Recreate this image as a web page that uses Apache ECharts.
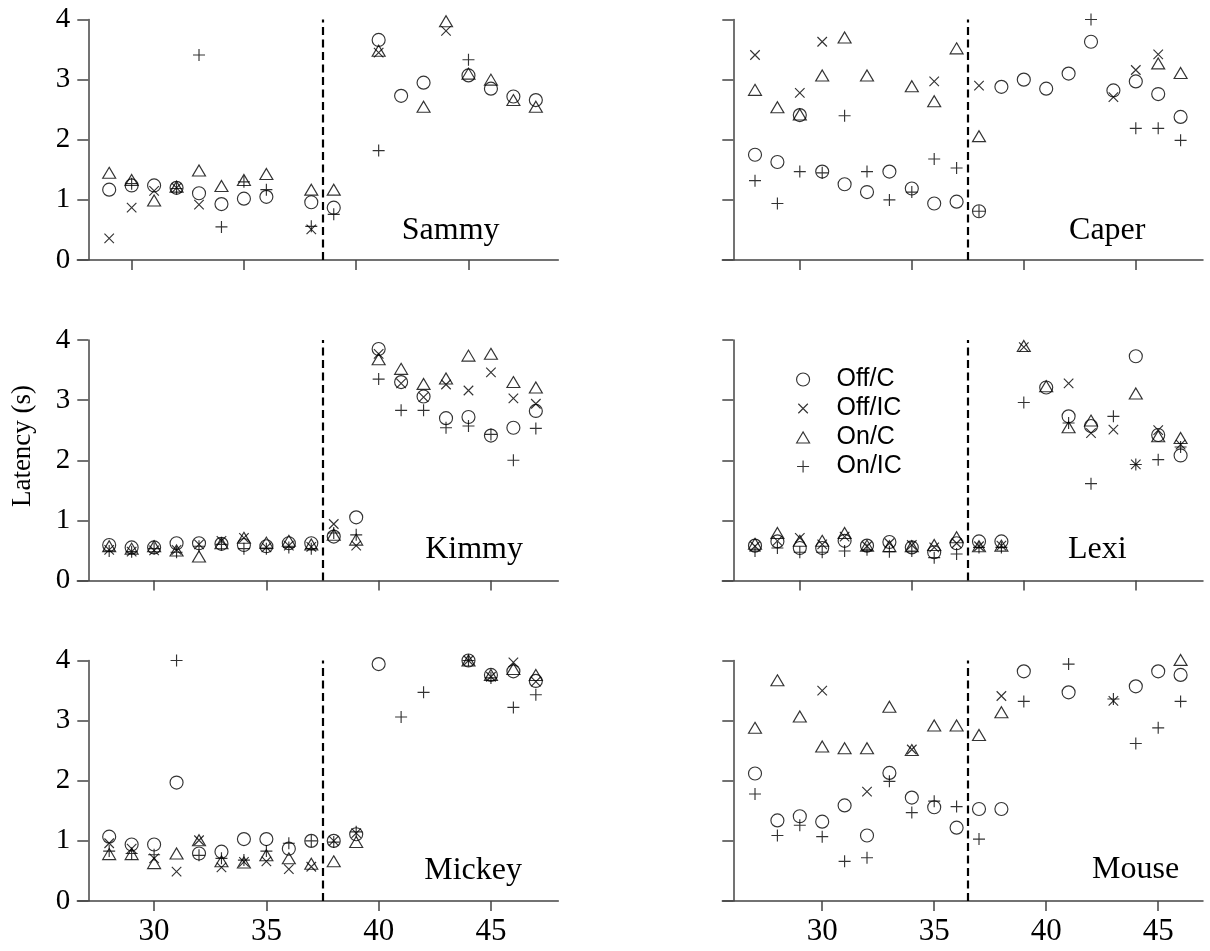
<!DOCTYPE html>
<html><head><meta charset="utf-8">
<script src="https://cdn.jsdelivr.net/npm/echarts@6/dist/echarts.min.js"></script>
<style>html,body{margin:0;padding:0;background:#fff}#c{width:1210px;height:951px}</style>
</head><body><div id="c"></div>
<script>
// ---- data: [session, latency (s)] ----
const seriesNames = ['Off/C', 'Off/IC', 'On/C', 'On/IC'];
const yTicks = [0, 1, 2, 3, 4];

const sammyOffC  = [[28,1.17],[29,1.24],[30,1.24],[31,1.2],[32,1.11],[33,0.93],[34,1.02],[35,1.05],[37,0.96],[38,0.87],[40,3.66],[41,2.73],[42,2.95],[44,3.07],[45,2.85],[46,2.72],[47,2.66]];
const sammyOffIC = [[28,0.36],[29,0.87],[30,1.15],[31,1.2],[32,0.92],[37,0.51],[40,3.45],[43,3.81]];
const sammyOnC   = [[28,1.45],[29,1.33],[30,0.99],[31,1.22],[32,1.49],[33,1.23],[34,1.33],[35,1.43],[37,1.17],[38,1.17],[40,3.48],[42,2.55],[43,3.97],[44,3.1],[45,3.0],[46,2.66],[47,2.55]];
const sammyOnIC  = [[29,1.27],[31,1.19],[32,3.41],[33,0.55],[34,1.3],[35,1.17],[37,0.56],[38,0.76],[40,1.82],[44,3.33]];

const caperOffC  = [[27,1.75],[28,1.63],[29,2.41],[30,1.47],[31,1.26],[32,1.13],[33,1.47],[34,1.19],[35,0.94],[36,0.97],[37,0.81],[38,2.88],[39,3.0],[40,2.85],[41,3.1],[42,3.63],[43,2.82],[44,2.97],[45,2.76],[46,2.38]];
const caperOffIC = [[27,3.41],[29,2.78],[30,3.63],[35,2.97],[37,2.9],[43,2.71],[44,3.16],[45,3.42]];
const caperOnC   = [[27,2.83],[28,2.54],[29,2.42],[30,3.07],[31,3.7],[32,3.07],[34,2.89],[35,2.64],[36,3.52],[37,2.06],[45,3.27],[46,3.11]];
const caperOnIC  = [[27,1.32],[28,0.94],[29,1.47],[30,1.45],[31,2.4],[32,1.47],[33,1.0],[34,1.13],[35,1.68],[36,1.53],[37,0.81],[42,4.0],[44,2.19],[45,2.19],[46,1.99]];

const kimmyOffC  = [[28,0.59],[29,0.55],[30,0.55],[31,0.62],[32,0.62],[33,0.61],[34,0.59],[35,0.57],[36,0.62],[37,0.62],[38,0.73],[39,1.05],[40,3.85],[41,3.3],[42,3.06],[43,2.7],[44,2.72],[45,2.41],[46,2.54],[47,2.82]];
const kimmyOffIC = [[28,0.51],[29,0.48],[30,0.5],[31,0.51],[32,0.6],[33,0.66],[34,0.71],[35,0.55],[36,0.58],[37,0.56],[38,0.94],[39,0.58],[40,3.77],[41,3.28],[42,3.05],[43,3.26],[44,3.16],[45,3.46],[46,3.03],[47,2.94]];
const kimmyOnC   = [[28,0.57],[29,0.53],[30,0.57],[31,0.5],[32,0.4],[33,0.62],[34,0.71],[35,0.63],[36,0.66],[37,0.6],[38,0.76],[39,0.68],[40,3.68],[41,3.52],[42,3.27],[43,3.36],[44,3.74],[45,3.77],[46,3.3],[47,3.21]];
const kimmyOnIC  = [[28,0.49],[29,0.48],[30,0.53],[31,0.47],[32,0.57],[33,0.6],[34,0.53],[35,0.53],[36,0.55],[37,0.53],[38,0.79],[39,0.76],[40,3.35],[41,2.83],[42,2.83],[43,2.54],[44,2.57],[45,2.43],[46,2.0],[47,2.53]];

const lexiOffC  = [[27,0.58],[28,0.65],[29,0.54],[30,0.54],[31,0.66],[32,0.58],[33,0.64],[34,0.55],[35,0.47],[36,0.62],[37,0.65],[38,0.65],[40,3.21],[41,2.73],[42,2.57],[44,3.73],[45,2.42],[46,2.08]];
const lexiOffIC = [[27,0.57],[28,0.66],[29,0.71],[30,0.6],[31,0.73],[32,0.57],[33,0.62],[34,0.59],[35,0.55],[36,0.62],[37,0.57],[38,0.58],[39,3.88],[41,3.28],[42,2.45],[43,2.51],[44,1.93],[45,2.5],[46,2.26]];
const lexiOnC   = [[27,0.61],[28,0.79],[29,0.66],[30,0.66],[31,0.79],[32,0.58],[33,0.57],[34,0.57],[35,0.59],[36,0.72],[37,0.57],[38,0.58],[39,3.9],[40,3.23],[41,2.55],[42,2.66],[44,3.11],[45,2.4],[46,2.37]];
const lexiOnIC  = [[27,0.49],[28,0.54],[29,0.47],[30,0.47],[31,0.49],[32,0.51],[33,0.48],[34,0.49],[35,0.38],[36,0.44],[37,0.55],[38,0.55],[39,2.96],[41,2.62],[42,1.61],[43,2.73],[44,1.93],[45,2.01],[46,2.22]];

const mickeyOffC  = [[28,1.07],[29,0.94],[30,0.94],[31,1.97],[32,0.79],[33,0.82],[34,1.03],[35,1.03],[36,0.87],[37,1.0],[38,1.0],[39,1.11],[40,3.94],[44,4.0],[45,3.76],[46,3.82],[47,3.66]];
const mickeyOffIC = [[28,0.96],[29,0.87],[30,0.71],[31,0.49],[32,1.01],[33,0.56],[34,0.65],[35,0.66],[36,0.53],[37,0.57],[38,1.0],[39,1.13],[44,4.0],[45,3.73],[46,3.97],[47,3.65]];
const mickeyOnC   = [[28,0.78],[29,0.78],[30,0.63],[31,0.79],[32,1.01],[33,0.66],[34,0.64],[35,0.76],[36,0.71],[37,0.62],[38,0.66],[39,0.98],[44,4.0],[45,3.76],[46,3.86],[47,3.76]];
const mickeyOnIC  = [[28,0.83],[29,0.79],[30,0.77],[31,4.0],[32,0.76],[33,0.71],[34,0.68],[35,0.83],[36,0.96],[37,1.0],[38,0.98],[39,1.15],[41,3.06],[42,3.47],[44,4.0],[45,3.71],[46,3.22],[47,3.43]];

const mouseOffC  = [[27,2.12],[28,1.34],[29,1.41],[30,1.32],[31,1.59],[32,1.09],[33,2.13],[34,1.72],[35,1.56],[36,1.22],[37,1.53],[38,1.53],[39,3.82],[41,3.47],[44,3.57],[45,3.82],[46,3.76]];
const mouseOffIC = [[30,3.5],[32,1.82],[34,2.52],[38,3.41],[43,3.33]];
const mouseOnC   = [[27,2.88],[28,3.67],[29,3.07],[30,2.57],[31,2.54],[32,2.54],[33,3.23],[34,2.51],[35,2.92],[36,2.92],[37,2.76],[38,3.14],[46,4.01]];
const mouseOnIC  = [[27,1.78],[28,1.09],[29,1.26],[30,1.07],[31,0.66],[32,0.72],[33,1.99],[34,1.47],[35,1.66],[36,1.57],[37,1.03],[39,3.32],[41,3.94],[43,3.36],[44,2.62],[45,2.88],[46,3.32]];

// phase-change (dashed line) session per column, tick sessions per panel
const leftPhase = 37.5, rightPhase = 36.5;
const ticksA = [29, 34, 39, 44];
const ticksB = [30, 35, 40, 45];

// ---- layout ----
const panels = [
  {name:'Sammy',  col:0, row:0, data:[sammyOffC, sammyOffIC, sammyOnC, sammyOnIC],   ticks:ticksA, phase:leftPhase,  lab:[41.03,0.31]},
  {name:'Caper',  col:1, row:0, data:[caperOffC, caperOffIC, caperOnC, caperOnIC],   ticks:ticksA, phase:rightPhase, lab:[41.02,0.31]},
  {name:'Kimmy',  col:0, row:1, data:[kimmyOffC, kimmyOffIC, kimmyOnC, kimmyOnIC],   ticks:ticksB, phase:leftPhase,  lab:[42.07,0.33]},
  {name:'Lexi',   col:1, row:1, data:[lexiOffC, lexiOffIC, lexiOnC, lexiOnIC],       ticks:ticksA, phase:rightPhase, lab:[40.97,0.33]},
  {name:'Mickey', col:0, row:2, data:[mickeyOffC, mickeyOffIC, mickeyOnC, mickeyOnIC], ticks:ticksB, phase:leftPhase, lab:[42.03,0.33]},
  {name:'Mouse',  col:1, row:2, data:[mouseOffC, mouseOffIC, mouseOnC, mouseOnIC],   ticks:ticksB, phase:rightPhase, lab:[42.05,0.34]}
];
const colLayout = [
  {left:77.3,  width:481.0, min:26.58, max:48.0},
  {left:722.3, width:480.7, min:25.54, max:47.0}
];
const rowTop = [19.5, 340, 660.5];
const rowH = 240.5;

const SERIF = '"Liberation Serif", "Times New Roman", serif';
const SANS = '"Liberation Sans", Arial, sans-serif';
const AX = '#444';

const symbols = [
  {symbol:'circle', size:13},
  {symbol:'path://M0,0L10,10M0,10L10,0', size:9.5},
  {symbol:'triangle', size:[13,11]},
  {symbol:'path://M5,0L5,10M0,5L10,5', size:12}
];
const markStyle = {color:'transparent', borderColor:'#000', borderWidth:1.15};

const grids = [], xAxes = [], yAxes = [], series = [];
panels.forEach((p, i) => {
  const c = colLayout[p.col];
  const bottom = p.row === 2;
  grids.push({left:c.left, top:rowTop[p.row], width:c.width, height:rowH, containLabel:false, outerBoundsMode:'none'});
  xAxes.push({
    type:'value', gridIndex:i, min:c.min, max:c.max,
    axisLine:{show:true, onZero:false, lineStyle:{color:AX, width:1.5}},
    axisTick:{show:true, inside:false, length:10, customValues:p.ticks, lineStyle:{color:AX, width:1.5}},
    axisLabel:{show:bottom, customValues:p.ticks, fontFamily:SERIF, fontSize:31, color:'#000', margin:15},
    splitLine:{show:false}
  });
  yAxes.push({
    type:'value', gridIndex:i, min:0, max:4, interval:1, offset:-11,
    axisLine:{show:true, onZero:false, lineStyle:{color:AX, width:1.5}},
    axisTick:{show:true, inside:false, length:11, lineStyle:{color:AX, width:1.5}},
    axisLabel:{show:p.col === 0, fontFamily:SERIF, fontSize:29, color:'#000', margin:18,
               customValues: yTicks},
    splitLine:{show:false}
  });
  p.data.forEach((d, k) => {
    const s = {
      type:'scatter', name:seriesNames[k], xAxisIndex:i, yAxisIndex:i, data:d,
      symbol:symbols[k].symbol, symbolSize:symbols[k].size,
      itemStyle:markStyle, clip:false, silent:true, z:3,
      emphasis:{disabled:true}
    };
    if (k === 0) {
      s.markLine = {
        silent:true, symbol:['none','none'], label:{show:false},
        lineStyle:{color:'#000', width:2.2, type:[8,4.5]},
        emphasis:{disabled:true},
        data:[[{coord:[p.phase, 0]}, {coord:[p.phase, 4]}]]
      };
    }
    series.push(s);
  });
});

const legendIcons = [
  'circle',
  'path://M0,0M13,13M1.75,1.75L11.25,11.25M1.75,11.25L11.25,1.75',
  'path://M0,0M13,13M0,12L6.5,1L13,12Z',
  'path://M0,0M13,13M6.5,0.5L6.5,12.5M0.5,6.5L12.5,6.5'
];

const chart = echarts.init(document.getElementById('c'), null, {renderer:'canvas'});
const option = {
  backgroundColor:'#fff',
  animation:false,
  grid:grids, xAxis:xAxes, yAxis:yAxes, series:series,
  legend:{
    show:true, orient:'vertical', left:791, top:360,
    itemWidth:13, itemHeight:13, itemGap:0, selectedMode:false,
    textStyle:{fontFamily:SANS, fontSize:25, color:'#000', lineHeight:29, padding:[0,0,0,22]},
    data:seriesNames.map((n, k) => ({name:n, icon:legendIcons[k],
      itemStyle:{color:'transparent', borderColor:'#000', borderWidth:1.15}}))
  }
};
chart.setOption(option);

const texts = panels.map((p, i) => {
  const pt = chart.convertToPixel({gridIndex:i}, p.lab);
  return {type:'text', x:pt[0], y:pt[1] - 11, silent:true,
    style:{text:p.name, font:'32px ' + SERIF, fill:'#000', align:'left', verticalAlign:'middle'}};
});
texts.push({type:'text', x:23, y:446, rotation:Math.PI/2, silent:true,
  style:{text:'Latency (s)', font:'27px ' + SERIF, fill:'#000', align:'center', verticalAlign:'middle'}});
chart.setOption({graphic:texts});
</script>
</body></html>
